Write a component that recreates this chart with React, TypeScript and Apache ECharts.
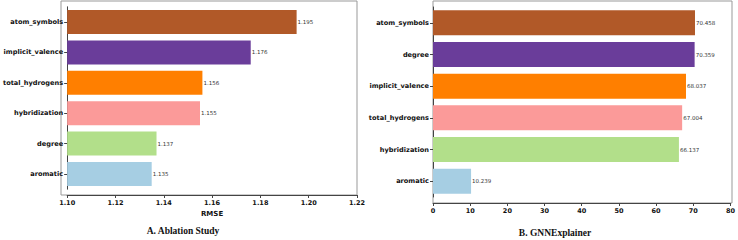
import React, { useEffect, useRef } from "react";
import * as echarts from "echarts";

const ablationCats = ["atom_symbols", "implicit_valence", "total_hydrogens", "hybridization", "degree", "aromatic"];
const ablationVals = [1.195, 1.176, 1.156, 1.155, 1.137, 1.135];
const gnnCats = ["atom_symbols", "degree", "implicit_valence", "total_hydrogens", "hybridization", "aromatic"];
const gnnVals = [70.458, 70.359, 68.037, 67.004, 66.137, 10.239];
const barColors = ["#b15928", "#6a3d9a", "#ff7f00", "#fb9a99", "#b2df8a", "#a6cee3"];
const titleA = "A. Ablation Study";
const titleB = "B. GNNExplainer";

const SANS = "DejaVu Sans";

export default function App() {
  const ref = useRef<HTMLDivElement>(null);
  useEffect(() => {
    if (!ref.current) return;
    const chart = echarts.init(ref.current, undefined, { renderer: "svg" });
    const catAxis = (cats: string[], gridIndex: number) => ({
      type: "category",
      gridIndex,
      data: cats,
      inverse: true,
      axisLine: { show: true, lineStyle: { color: "#444", width: 1 } },
      axisTick: { show: true, alignWithLabel: true, length: 3, lineStyle: { color: "#444" } },
      axisLabel: { fontFamily: SANS, fontWeight: "bold", fontSize: 6.6, color: "#111", margin: 4 },
      splitLine: { show: false },
    });
    const valAxis = (gridIndex: number, min: number, max: number, interval: number, offset: number, name: string, digits: number) => ({
      type: "value",
      gridIndex,
      min,
      max,
      interval,
      offset,
      name,
      nameLocation: "middle",
      nameGap: 14,
      nameTextStyle: { fontFamily: SANS, fontWeight: "bold", fontSize: 7, color: "#111" },
      axisLine: { show: true, lineStyle: { color: "#444", width: 1 } },
      axisTick: { show: true, length: 3, lineStyle: { color: "#444" } },
      axisLabel: {
        fontFamily: SANS,
        fontWeight: "bold",
        fontSize: 6.5,
        color: "#111",
        margin: 4,
        formatter: (v: number) => v.toFixed(digits),
      },
      splitLine: { show: false },
    });
    const barSeries = (vals: number[], idx: number, width: number, digits: number) => ({
      type: "bar",
      xAxisIndex: idx,
      yAxisIndex: idx,
      barWidth: width,
      data: vals.map((v, i) => ({ value: v, itemStyle: { color: barColors[i] } })),
      label: {
        show: true,
        position: "right",
        distance: 1,
        fontFamily: SANS,
        fontSize: 5.5,
        color: "#333",
        formatter: (p: any) => Number(p.value).toFixed(digits),
      },
    });
    chart.setOption({
      animation: false,
      grid: [
        { left: 61, width: 296, top: 6.8, bottom: 50.8, containLabel: false },
        { left: 433, width: 299, top: 7, bottom: 43, containLabel: false },
      ],
      xAxis: [
        valAxis(0, 1.1, 1.22, 0.02, 5.8, "RMSE", 2),
        valAxis(1, 0, 80, 10, 6, "", 0),
      ],
      yAxis: [catAxis(ablationCats, 0), catAxis(gnnCats, 1)],
      series: [barSeries(ablationVals, 0, 24, 3), barSeries(gnnVals, 1, 25, 3)],
      graphic: [
        { type: "rect", shape: { x: 61, y: 1, width: 296, height: 194 }, style: { fill: "none", stroke: "#999", lineWidth: 1 }, silent: true, z: -1 },
        { type: "rect", shape: { x: 433, y: 1, width: 299, height: 202 }, style: { fill: "none", stroke: "#999", lineWidth: 1 }, silent: true, z: -1 },
        { type: "text", x: 183, y: 231, style: { text: titleA, font: "bold 9.5px 'Liberation Serif'", fill: "#111", textAlign: "center", textVerticalAlign: "middle" } },
        { type: "text", x: 555, y: 233, style: { text: titleB, font: "bold 9.5px 'Liberation Serif'", fill: "#111", textAlign: "center", textVerticalAlign: "middle" } },
      ],
    });
    return () => chart.dispose();
  }, []);
  return <div ref={ref} style={{ position: "fixed", left: 0, top: 0, width: 738, height: 240, background: "#fff" }} />;
}
